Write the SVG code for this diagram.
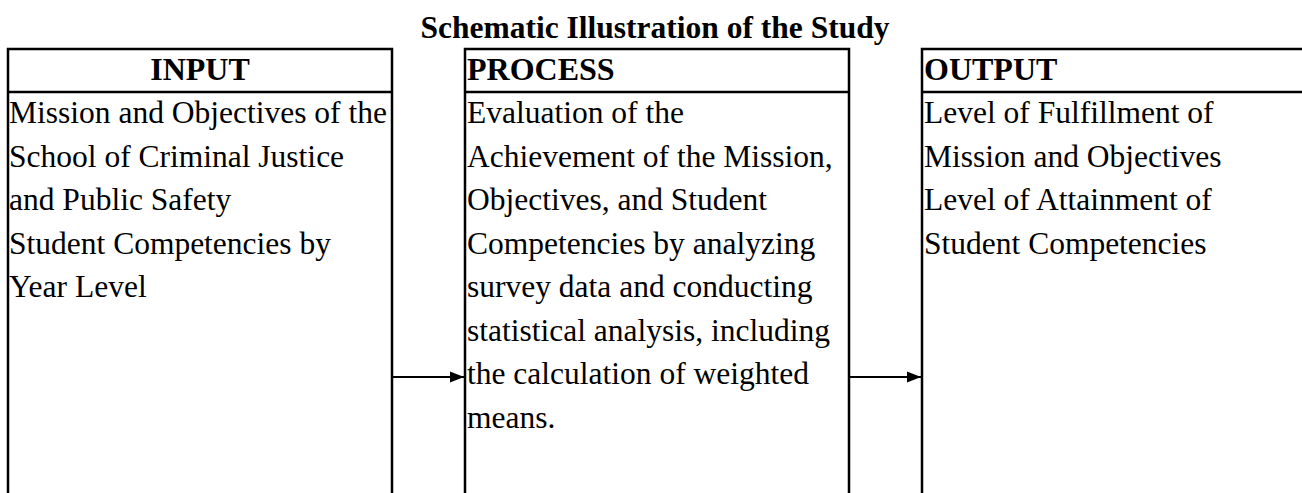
<svg xmlns="http://www.w3.org/2000/svg" width="1302" height="493" viewBox="0 0 1302 493">
  <style>
    .frame { fill: none; stroke: #000; stroke-width: 2.5; }
    .title { font-family: "Liberation Serif", "Times New Roman", serif; font-weight: bold; font-size: 31.5px; fill: #000; }
    .head { font-family: "Liberation Serif", "Times New Roman", serif; font-weight: bold; font-size: 32px; fill: #000; }
    .body { font-family: "Liberation Serif", "Times New Roman", serif; font-size: 31.5px; fill: #000; }
    .link { stroke: #000; stroke-width: 2; fill: none; }
  </style>
  <defs>
    <marker id="arrow" markerWidth="14" markerHeight="12" refX="14" refY="6" orient="auto" markerUnits="userSpaceOnUse">
      <path d="M0,0.5 L14,6 L0,11.5 Z" fill="#000"/>
    </marker>
  </defs>
  <rect width="1302" height="493" fill="#fff"/>

  <text class="title" x="655" y="38" text-anchor="middle">Schematic Illustration of the Study</text>

  <g id="input">
    <path class="frame" d="M8,500 V49 H392 V500 M8,92 H392"/>
    <text class="head" x="200" y="80" text-anchor="middle">INPUT</text>
    <text class="body" x="9">
      <tspan x="9" y="123">Mission and Objectives of the</tspan>
      <tspan x="9" y="166.5">School of Criminal Justice</tspan>
      <tspan x="9" y="210">and Public Safety</tspan>
      <tspan x="9" y="253.5">Student Competencies by</tspan>
      <tspan x="9" y="297">Year Level</tspan>
    </text>
  </g>

  <g id="process">
    <path class="frame" d="M465,500 V49 H849 V500 M465,92 H849"/>
    <text class="head" x="467" y="80">PROCESS</text>
    <text class="body" x="467">
      <tspan x="467" y="123">Evaluation of the</tspan>
      <tspan x="467" y="166.5">Achievement of the Mission,</tspan>
      <tspan x="467" y="210">Objectives, and Student</tspan>
      <tspan x="467" y="253.5">Competencies by analyzing</tspan>
      <tspan x="467" y="297">survey data and conducting</tspan>
      <tspan x="467" y="340.5">statistical analysis, including</tspan>
      <tspan x="467" y="384">the calculation of weighted</tspan>
      <tspan x="467" y="427.5">means.</tspan>
    </text>
  </g>

  <g id="output">
    <path class="frame" d="M922,500 V49 H1310 M922,92 H1310"/>
    <text class="head" x="924" y="80">OUTPUT</text>
    <text class="body" x="924">
      <tspan x="924" y="123">Level of Fulfillment of</tspan>
      <tspan x="924" y="166.5">Mission and Objectives</tspan>
      <tspan x="924" y="210">Level of Attainment of</tspan>
      <tspan x="924" y="253.5">Student Competencies</tspan>
    </text>
  </g>

  <g id="connectors">
    <line class="link" x1="392" y1="377" x2="464" y2="377" marker-end="url(#arrow)"/>
    <line class="link" x1="849" y1="377" x2="921" y2="377" marker-end="url(#arrow)"/>
  </g>
</svg>
